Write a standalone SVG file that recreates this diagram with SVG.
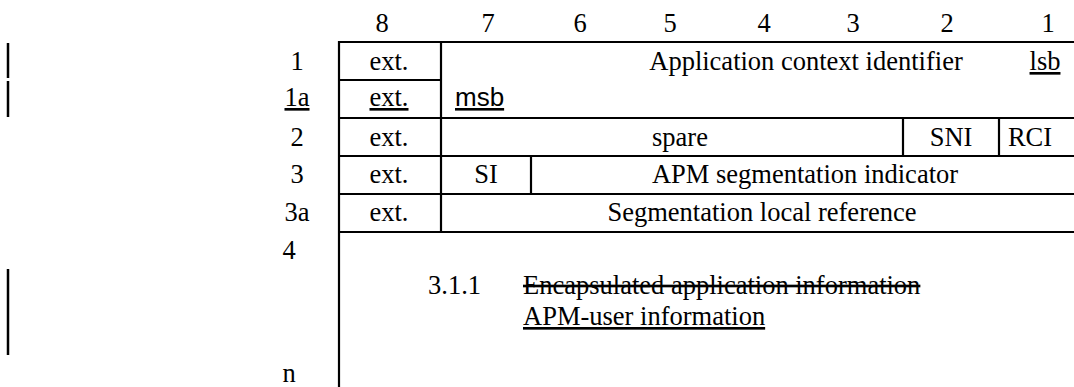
<svg xmlns="http://www.w3.org/2000/svg" width="1074" height="387" viewBox="0 0 1074 387">
<style>
text{font-family:"Liberation Serif","Times New Roman",serif;font-size:26.5px;fill:#000}
.c{text-anchor:middle}
.sans{font-family:"Liberation Sans",Arial,sans-serif;font-size:26px}
.u{text-decoration:underline}
.s{text-decoration:line-through}
line{stroke:#000;stroke-width:2.2}
.bar{stroke-width:2.5}
</style>
<rect width="1074" height="387" fill="#fff"/>
<g id="changebars">
<line class="bar" x1="8" y1="43" x2="8" y2="78"/>
<line class="bar" x1="8" y1="81" x2="8" y2="117"/>
<line class="bar" x1="8" y1="269" x2="8" y2="355"/>
</g>
<g id="bit-numbers">
<text class="c" x="382" y="32">8</text>
<text class="c" x="488" y="32">7</text>
<text class="c" x="580" y="32">6</text>
<text class="c" x="670" y="32">5</text>
<text class="c" x="764" y="32">4</text>
<text class="c" x="853" y="32">3</text>
<text class="c" x="947" y="32">2</text>
<text class="c" x="1048" y="32">1</text>
</g>
<g id="octet-numbers">
<text class="c" x="297" y="70">1</text>
<text class="c u" x="297" y="106">1a</text>
<text class="c" x="297" y="146">2</text>
<text class="c" x="297" y="183">3</text>
<text class="c" x="297" y="221">3a</text>
<text class="c" x="289" y="259">4</text>
<text class="c" x="289" y="382">n</text>
</g>
<g id="grid">
<line x1="339" y1="42" x2="1074" y2="42"/>
<line x1="339" y1="80" x2="441" y2="80"/>
<line x1="339" y1="118" x2="1074" y2="118"/>
<line x1="339" y1="156" x2="1074" y2="156"/>
<line x1="339" y1="194" x2="1074" y2="194"/>
<line x1="339" y1="232" x2="1074" y2="232"/>
<line x1="339" y1="41" x2="339" y2="387"/>
<line x1="441" y1="42" x2="441" y2="232"/>
<line x1="531" y1="156" x2="531" y2="194"/>
<line x1="903" y1="118" x2="903" y2="156"/>
<line x1="999" y1="118" x2="999" y2="156"/>
</g>
<g id="octet1">
<text class="c" x="389" y="70">ext.</text>
<text class="c" x="806" y="70">Application context identifier</text>
<text class="c u" x="1045" y="70">lsb</text>
</g>
<g id="octet1a">
<text class="c u" x="389" y="106">ext.</text>
<text class="sans u" x="455" y="106">msb</text>
</g>
<g id="octet2">
<text class="c" x="389" y="146">ext.</text>
<text class="c" x="680" y="146">spare</text>
<text class="c" x="951" y="146">SNI</text>
<text class="c" x="1030" y="146">RCI</text>
</g>
<g id="octet3">
<text class="c" x="389" y="183">ext.</text>
<text class="c" x="486" y="183">SI</text>
<text class="c" x="805" y="183">APM segmentation indicator</text>
</g>
<g id="octet3a">
<text class="c" x="389" y="221">ext.</text>
<text class="c" x="762" y="221">Segmentation local reference</text>
</g>
<g id="octet4">
<text x="428" y="294">3.1.1</text>
<text class="s" x="523" y="294">Encapsulated application information</text>
<text class="u" x="523" y="325">APM-user information</text>
</g>
</svg>
